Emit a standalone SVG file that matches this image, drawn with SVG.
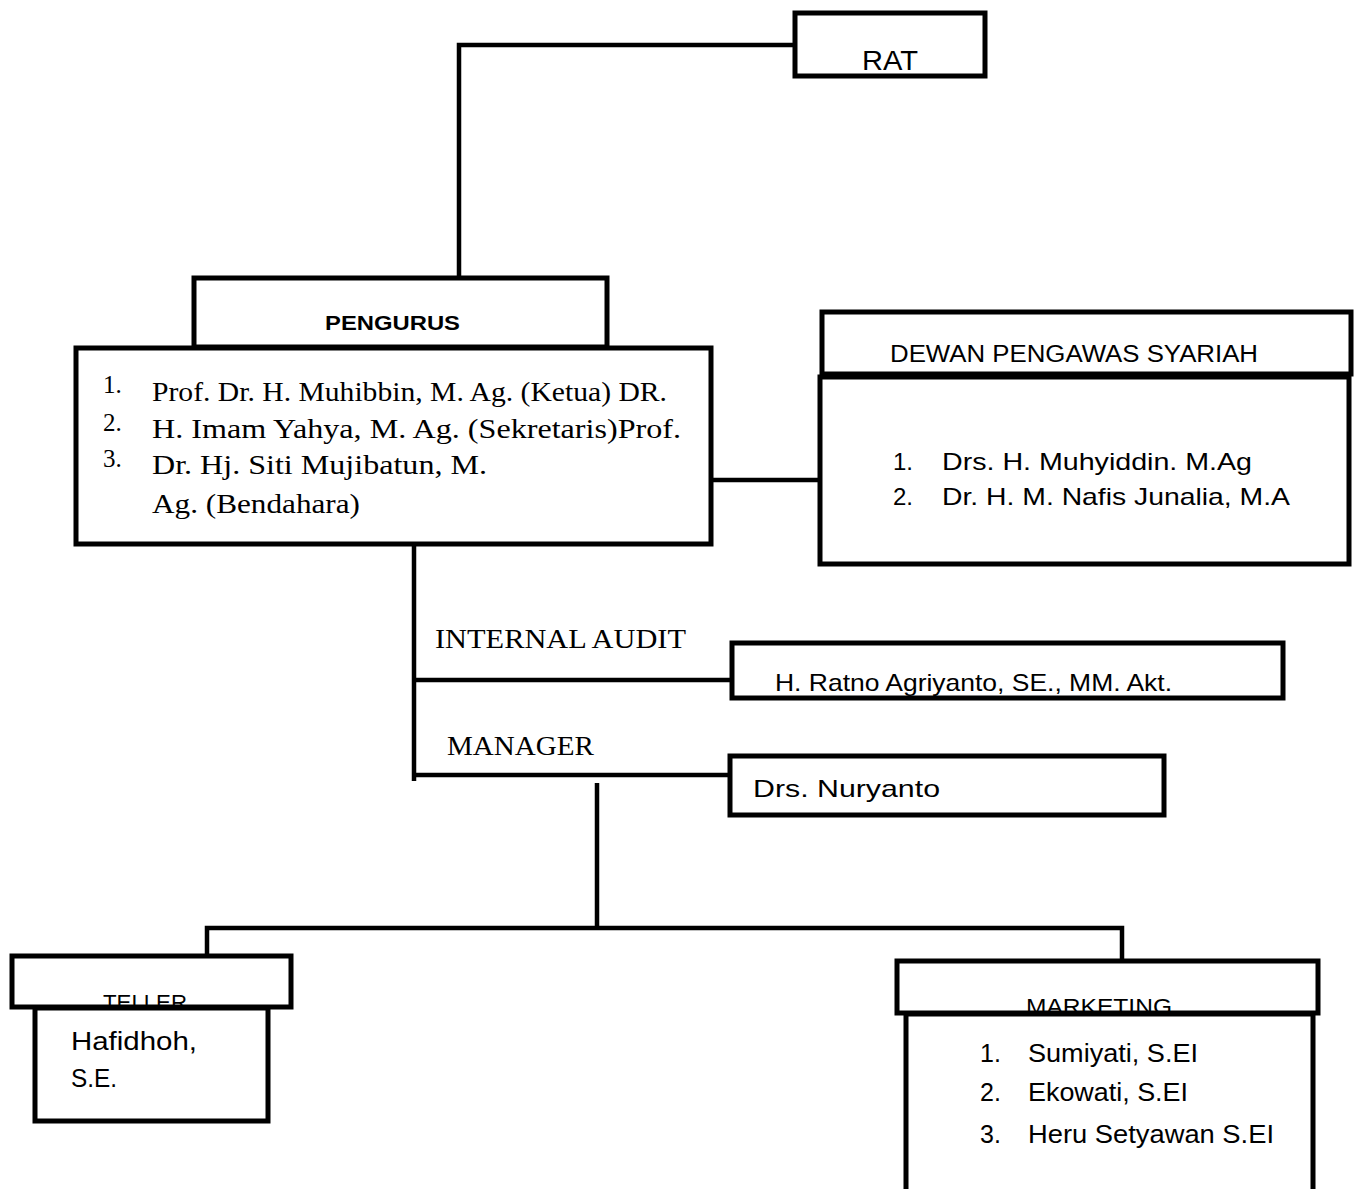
<svg xmlns="http://www.w3.org/2000/svg" width="1355" height="1189" viewBox="0 0 1355 1189">
<style>
.box{fill:#fff;stroke:#000;stroke-width:5}
.ln{fill:none;stroke:#000;stroke-width:4.5}
.s{font-family:"Liberation Sans",Arial,sans-serif;fill:#000}
.t{font-family:"Liberation Serif","Times New Roman",serif;fill:#000}
</style>
<rect width="1355" height="1189" fill="#fff"/>
<g id="connectors">
<path class="ln" d="M795,45 H459 V277"/>
<path class="ln" d="M711,480 H820"/>
<path class="ln" d="M414,546 V781"/>
<path class="ln" d="M414,680 H733" stroke-width="6"/>
<path class="ln" d="M414,775 H730"/>
<path class="ln" d="M597,783 V926"/>
<path class="ln" d="M207,958 V928 H1122 V962"/>
</g>
<g id="rat">
<rect class="box" x="795" y="13" width="190" height="63"/>
<text class="s" x="862" y="70" font-size="28" textLength="56" lengthAdjust="spacingAndGlyphs">RAT</text>
</g>
<g id="pengurus">
<rect class="box" x="194" y="278" width="413" height="69"/>
<text class="s" x="325" y="330" font-size="20" font-weight="bold" textLength="135" lengthAdjust="spacingAndGlyphs">PENGURUS</text>
<rect class="box" x="76" y="348" width="635" height="196"/>
<g class="t" font-size="25">
<text x="103" y="393">1.</text>
<text x="103" y="431">2.</text>
<text x="103" y="467">3.</text>
</g>
<g class="t" font-size="28">
<text x="152" y="401" textLength="515" lengthAdjust="spacingAndGlyphs">Prof. Dr. H. Muhibbin, M. Ag. (Ketua) DR.</text>
<text x="152" y="438" textLength="529" lengthAdjust="spacingAndGlyphs">H. Imam Yahya, M. Ag. (Sekretaris)Prof.</text>
<text x="152" y="474" textLength="335" lengthAdjust="spacingAndGlyphs">Dr. Hj. Siti Mujibatun, M.</text>
<text x="152" y="513" textLength="208" lengthAdjust="spacingAndGlyphs">Ag. (Bendahara)</text>
</g>
</g>
<g id="dewan-pengawas-syariah">
<rect class="box" x="822" y="312" width="529" height="62"/>
<text class="s" x="890" y="362" font-size="23" textLength="368" lengthAdjust="spacingAndGlyphs">DEWAN PENGAWAS SYARIAH</text>
<rect class="box" x="820" y="377" width="529" height="187"/>
<text class="s" x="893" y="470" font-size="24">1.</text>
<text class="s" x="942" y="470" font-size="24" textLength="310" lengthAdjust="spacingAndGlyphs">Drs. H. Muhyiddin. M.Ag</text>
<text class="s" x="893" y="505" font-size="24">2.</text>
<text class="s" x="942" y="505" font-size="24" textLength="348" lengthAdjust="spacingAndGlyphs">Dr. H. M. Nafis Junalia, M.A</text>
</g>
<g id="internal-audit">
<text class="t" x="435" y="648" font-size="28" textLength="251" lengthAdjust="spacingAndGlyphs">INTERNAL AUDIT</text>
<rect class="box" x="732" y="643" width="551" height="55"/>
<text class="s" x="775" y="691" font-size="24" textLength="397" lengthAdjust="spacingAndGlyphs">H. Ratno Agriyanto, SE., MM. Akt.</text>
</g>
<g id="manager">
<text class="t" x="447" y="755" font-size="28" textLength="147" lengthAdjust="spacingAndGlyphs">MANAGER</text>
<rect class="box" x="730" y="756" width="434" height="59"/>
<text class="s" x="753" y="797" font-size="24" textLength="187" lengthAdjust="spacingAndGlyphs">Drs. Nuryanto</text>
</g>
<g id="teller">
<rect class="box" x="12" y="956" width="279" height="51"/>
<text class="s" x="103" y="1010" font-size="22" textLength="84" lengthAdjust="spacingAndGlyphs">TELLER</text>
<rect class="box" x="35" y="1008" width="233" height="113"/>
<text class="s" x="71" y="1050" font-size="25" textLength="126" lengthAdjust="spacingAndGlyphs">Hafidhoh,</text>
<text class="s" x="71" y="1087" font-size="25" textLength="46" lengthAdjust="spacingAndGlyphs">S.E.</text>
</g>
<g id="marketing">
<rect class="box" x="897" y="961" width="421" height="52"/>
<text class="s" x="1026" y="1014" font-size="22" textLength="146" lengthAdjust="spacingAndGlyphs">MARKETING</text>
<path class="box" d="M906,1200 V1014 H1313 V1200"/>
<text class="s" x="980" y="1062" font-size="25">1.</text>
<text class="s" x="1028" y="1062" font-size="25" textLength="170" lengthAdjust="spacingAndGlyphs">Sumiyati, S.EI</text>
<text class="s" x="980" y="1101" font-size="25">2.</text>
<text class="s" x="1028" y="1101" font-size="25" textLength="160" lengthAdjust="spacingAndGlyphs">Ekowati, S.EI</text>
<text class="s" x="980" y="1143" font-size="25">3.</text>
<text class="s" x="1028" y="1143" font-size="25" textLength="246" lengthAdjust="spacingAndGlyphs">Heru Setyawan S.EI</text>
</g>
</svg>
